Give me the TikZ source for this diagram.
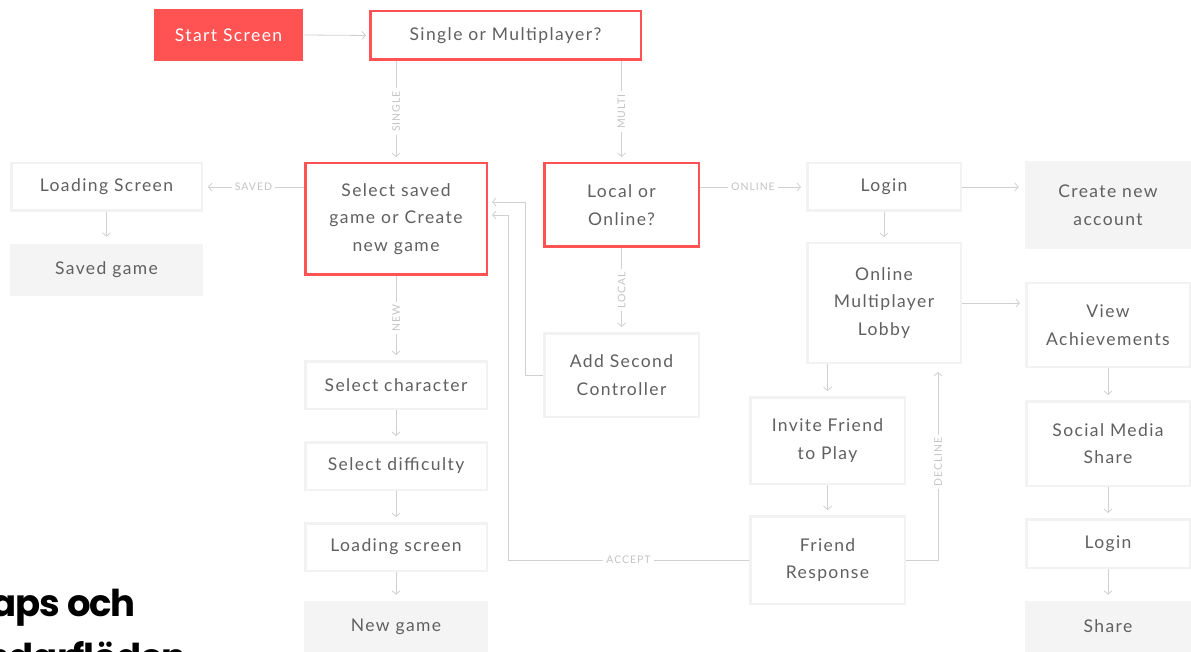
\documentclass[tikz,border=0pt]{standalone}
\usepackage{fontspec}
\setmainfont{Lato}[LetterSpace=8]
\newfontfamily\lblfont{Lato}[LetterSpace=9]
\newfontfamily\headfont{Poppins}[LetterSpace=-3]
\usetikzlibrary{arrows.meta}
\definecolor{accent}{HTML}{FF5252}
\definecolor{linegray}{HTML}{D0D0D0}
\definecolor{lblgray}{HTML}{C4C4C4}
\definecolor{txtgray}{HTML}{606060}
\definecolor{bordgray}{HTML}{F2F2F2}
\definecolor{fillgray}{HTML}{F4F4F4}
\tikzset{
  box/.style={draw=bordgray, line width=2.5pt, fill=white, inner sep=0pt, align=center,
    text=txtgray, font=\fontsize{17.5}{27.5}\selectfont},
  redbox/.style={box, draw=accent},
  gbox/.style={box, draw=none, fill=fillgray},
  startbox/.style={box, draw=none, fill=accent, text=white},
  arr/.style={draw=linegray, line width=0.8pt, -{Straight Barb[length=3.5pt,width=8pt]}, shorten >=5pt},
  lbl/.style={fill=white, text=lblgray, font=\lblfont\fontsize{10.5}{10.5}\selectfont, inner sep=3pt},
  head/.style={anchor=base east, inner sep=0pt, text=black, font=\headfont\bfseries\fontsize{37}{37}\selectfont}
}
\begin{document}
\begin{tikzpicture}[x=1pt,y=-1pt]
\useasboundingbox (0,0) rectangle (1191,652);
% nodes
\node[startbox, minimum width=149pt, minimum height=52pt] (start) at (228.5,35) {Start Screen};
\node[redbox, minimum width=270.5pt, minimum height=48.5pt] (single) at (505.5,35.5) {Single or Multiplayer?};
\node[redbox, minimum width=181.5pt, minimum height=111.5pt] (saved) at (396,219) {Select saved\\game or Create\\new game};
\node[box, minimum width=190.5pt, minimum height=47.5pt] (loadA) at (106.5,187) {Loading Screen};
\node[gbox, minimum width=193pt, minimum height=52pt] (savedgame) at (106.5,270) {Saved game};
\node[redbox, minimum width=154.5pt, minimum height=83.5pt] (local) at (621.5,205) {Local or\\Online?};
\node[box, minimum width=153.5pt, minimum height=47.5pt] (loginA) at (884,187) {Login};
\node[gbox, minimum width=166pt, minimum height=88pt] (create) at (1108,205) {Create new\\account};
\node[box, minimum width=153.5pt, minimum height=119.5pt] (lobby) at (884,303) {Online\\Multiplayer\\Lobby};
\node[box, minimum width=163.5pt, minimum height=83.5pt] (achv) at (1108,325) {View\\Achievements};
\node[box, minimum width=163.5pt, minimum height=84.5pt] (social) at (1108,443.5) {Social Media\\Share};
\node[box, minimum width=163.5pt, minimum height=48.5pt] (loginB) at (1108,543.5) {Login};
\node[gbox, minimum width=166pt, minimum height=51pt] (share) at (1108,626.5) {Share};
\node[box, minimum width=154.5pt, minimum height=83.5pt] (second) at (621.5,375) {Add Second\\Controller};
\node[box, minimum width=181.5pt, minimum height=47.5pt] (char) at (396,385) {Select character};
\node[box, minimum width=181.5pt, minimum height=47.5pt] (diff) at (396,466) {Select difficulty};
\node[box, minimum width=181.5pt, minimum height=47.5pt] (loadB) at (396,547) {Loading screen};
\node[gbox, minimum width=184pt, minimum height=51pt] (newgame) at (396,626.5) {New game};
\node[box, minimum width=154.5pt, minimum height=86.5pt] (invite) at (827.5,440.5) {Invite Friend\\to Play};
\node[box, minimum width=154.5pt, minimum height=87.5pt] (friend) at (827.5,560) {Friend\\Response};
% heading
\node[head] (head1) at (136,616) {Sitemaps och};
\node[head] (head2) at (187,670) {användarflöden};
% connectors
\draw[arr, shorten >=3pt] (start.east) -- (single.west);
\draw[arr] (saved.north |- single.south) -- node[lbl, rotate=90] {SINGLE} (saved.north);
\draw[arr] (local.north |- single.south) -- node[lbl, rotate=90] {MULTI} (local.north);
\draw[arr] (saved.west |- loadA.east) -- node[lbl] {SAVED} (loadA.east);
\draw[arr, shorten >=6pt] (loadA.south) -- (savedgame.north);
\draw[arr] (local.east |- loginA.west) -- node[lbl] {ONLINE} (loginA.west);
\draw[arr] (loginA.east) -- (loginA.east -| create.west);
\draw[arr] (loginA.south) -- (lobby.north);
\draw[arr] (lobby.east) -- (lobby.east -| achv.west);
\draw[arr] (achv.south) -- (social.north);
\draw[arr] (social.south) -- (loginB.north);
\draw[arr] (loginB.south) -- (share.north);
\draw[arr] (local.south) -- node[lbl, rotate=90] {LOCAL} (second.north);
\draw[arr] (saved.south) -- node[lbl, rotate=90] {NEW} (char.north);
\draw[arr] (char.south) -- (diff.north);
\draw[arr] (diff.south) -- (loadB.north);
\draw[arr] (loadB.south) -- (newgame.north);
\draw[arr] (invite.north |- lobby.south) -- (invite.north);
\draw[arr] (invite.south) -- (friend.north);
\draw[arr, shorten >=4pt] (second.west) -- ++(-18,0) |- ([yshift=17pt]saved.east);
\draw[arr, shorten >=4pt] (friend.west) -- node[lbl] {ACCEPT} ++(-241,0) |- ([yshift=4pt]saved.east);
\draw[arr, shorten >=8pt] (friend.east) -| node[lbl, rotate=90, pos=0.75] {DECLINE} ([xshift=54pt]lobby.south);
\end{tikzpicture}
\end{document}
